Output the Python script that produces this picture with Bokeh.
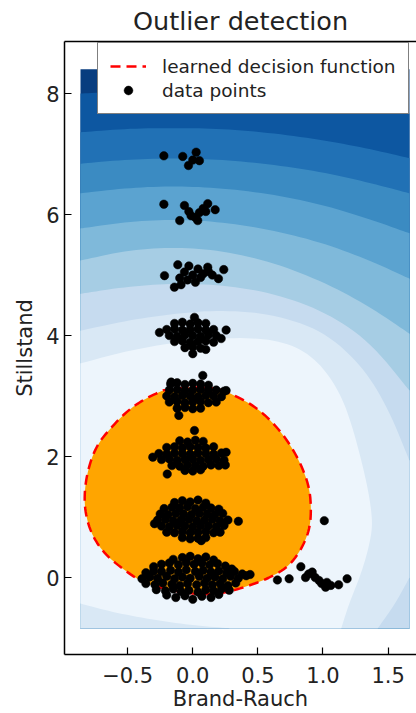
import numpy as np
from bokeh.plotting import figure
from bokeh.models import (Range1d, LinearAxis, FixedTicker, Legend, LegendItem,
                          ColumnDataSource, CustomLabelingPolicy)
from bokeh.embed import file_html
from bokeh.resources import INLINE

# ---------------- data ----------------
title_text = "Outlier detection"
x_label = "Brand-Rauch"
y_label = "Stillstand"
x_ticks = [-0.5, 0.0, 0.5, 1.0, 1.5]
x_tick_labels = ["\u22120.5", "0.0", "0.5", "1.0", "1.5"]
y_ticks = [0, 2, 4, 6, 8]
y_tick_labels = ["0", "2", "4", "6", "8"]

# extent of the evaluated decision-function grid
grid_x = [-0.862, 1.664]
grid_y = [-0.84, 8.40]

# contour lines of the decision function (outer -> inner)
arc_x = [-0.862, -0.5, -0.15, 0.2, 0.6, 1.0, 1.35, 1.664]
arc1_y = [8.00, 8.04, 8.06, 8.04, 7.99, 7.90, 7.79, 7.67]
arc2_y = [7.36, 7.42, 7.43, 7.42, 7.35, 7.23, 7.09, 6.93]
arc3_y = [6.84, 6.91, 6.93, 6.91, 6.83, 6.70, 6.53, 6.35]
arc4_y = [6.35, 6.44, 6.47, 6.44, 6.34, 6.16, 5.93, 5.69]
arc5_y = [5.77, 5.88, 5.92, 5.88, 5.75, 5.53, 5.25, 4.94]
arc6_y = [5.24, 5.41, 5.46, 5.41, 5.22, 4.89, 4.49, 4.03]
arc7_y = [4.69, 4.81, 4.86, 4.84, 4.71, 4.41, 3.92, 3.09]
arc8_x = [-0.862, -0.5, -0.15, 0.2, 0.6, 1.0, 1.3, 1.5, 1.664]
arc8_y = [4.08, 4.25, 4.36, 4.42, 4.36, 4.08, 3.5, 2.8, 1.93]
arc8b_x = [1.664, 1.55, 1.42]
arc8b_y = [0.0, -0.45, -0.84]
arc9_x = [-0.862, -0.5, -0.1, 0.3, 0.65, 0.9, 1.08, 1.2, 1.33, 1.38, 1.37, 1.3, 1.2, 1.14]
arc9_y = [3.54, 3.75, 3.90, 3.97, 3.93, 3.70, 3.25, 2.7, 1.65, 1.0, 0.66, 0.1, -0.43, -0.84]
arc9b_x = [-0.862, -0.6, -0.3, 0.0, 0.3]
arc9b_y = [-0.43, -0.58, -0.70, -0.79, -0.84]
band_colors = ["#083d7f", "#0d57a1", "#2171b5", "#3b8bc2", "#5ba3d0",
               "#7fb9da", "#a6cde4", "#c6dbef", "#d9e8f5", "#edf5fc"]

# learned decision boundary (closed)
boundary_x = [-0.01, 0.218, 0.27, 0.45, 0.60, 0.73, 0.83, 0.896, 0.91, 0.896, 0.83, 0.73,
              0.576, 0.397, 0.218, 0.038, -0.166, -0.371, -0.525, -0.678, -0.78, -0.83,
              -0.83, -0.793, -0.73, -0.627, -0.50, -0.371, -0.243, -0.217]
boundary_y = [3.15, 3.12, 3.06, 2.87, 2.60, 2.26, 1.88, 1.49, 1.11, 0.78, 0.45, 0.17,
              -0.02, -0.16, -0.27, -0.28, -0.21, -0.10, 0.12, 0.39, 0.72, 1.11,
              1.49, 1.88, 2.21, 2.48, 2.76, 2.95, 3.08, 3.10]

# data points, by Stillstand level
lvl0_x = [-0.15, -0.08, -0.02, 0.04, 0.10, 0.16,
          -0.30, -0.24, -0.18, -0.11, -0.05, 0.01, 0.07, 0.13, 0.19, 0.25, 0.30,
          -0.36, -0.30, -0.24, -0.17, -0.11, -0.05, 0.02, 0.08, 0.14, 0.20, 0.26, 0.32, 0.38,
          -0.39, -0.33, -0.27, -0.20, -0.14, -0.08, -0.02, 0.05, 0.11, 0.17, 0.23, 0.29, 0.35, 0.41, 0.44,
          -0.36, -0.29, -0.23, -0.16, -0.10, -0.04, 0.03, 0.09, 0.15, 0.21, 0.27, 0.33,
          -0.28, -0.21, -0.15, -0.09, -0.03, 0.04, 0.10, 0.16, 0.22, 0.28,
          -0.20, -0.13, -0.06, 0.00, 0.07, 0.14, 0.20]
lvl0_y = [0.30, 0.33, 0.35, 0.31, 0.34, 0.29,
          0.18, 0.22, 0.24, 0.21, 0.25, 0.22, 0.24, 0.21, 0.23, 0.19, 0.14,
          0.08, 0.11, 0.10, 0.12, 0.09, 0.13, 0.10, 0.12, 0.09, 0.11, 0.08, 0.10, 0.06,
          -0.02, 0.01, -0.01, 0.02, -0.02, 0.01, -0.01, 0.02, -0.01, 0.01, -0.02, 0.02, -0.01, 0.03, 0.05,
          -0.10, -0.12, -0.09, -0.11, -0.13, -0.10, -0.12, -0.09, -0.12, -0.10, -0.13, -0.09,
          -0.20, -0.22, -0.19, -0.23, -0.21, -0.24, -0.20, -0.22, -0.19, -0.21,
          -0.29, -0.33, -0.30, -0.36, -0.31, -0.33, -0.28]
lvl1_x = [-0.14, -0.08, -0.02, 0.04, 0.10,
          -0.22, -0.16, -0.10, -0.04, 0.02, 0.08, 0.14, 0.20,
          -0.25, -0.19, -0.13, -0.07, -0.01, 0.05, 0.11, 0.17, 0.23,
          -0.27, -0.21, -0.15, -0.09, -0.03, 0.03, 0.09, 0.15, 0.21, 0.27,
          -0.24, -0.18, -0.12, -0.06, 0.00, 0.06, 0.12, 0.18, 0.24,
          -0.20, -0.14, -0.08, -0.02, 0.04, 0.10, 0.16, 0.21,
          -0.08, -0.02, 0.04, 0.10,
          -0.294, 0.35, 0.065]
lvl1_y = [1.24, 1.27, 1.25, 1.28, 1.23,
          1.14, 1.16, 1.15, 1.17, 1.14, 1.16, 1.15, 1.13,
          1.05, 1.04, 1.06, 1.05, 1.04, 1.06, 1.05, 1.04, 1.06,
          0.95, 0.96, 0.94, 0.95, 0.96, 0.94, 0.95, 0.96, 0.94, 0.95,
          0.85, 0.84, 0.86, 0.85, 0.84, 0.86, 0.85, 0.84, 0.86,
          0.75, 0.74, 0.76, 0.74, 0.75, 0.76, 0.74, 0.75,
          0.66, 0.64, 0.65, 0.66,
          0.89, 0.93, 0.61]
lvl2_x = [-0.10, -0.04, 0.02, 0.08,
          -0.20, -0.14, -0.08, -0.02, 0.04, 0.10, 0.16,
          -0.26, -0.20, -0.14, -0.08, -0.02, 0.04, 0.10, 0.16, 0.22,
          -0.24, -0.18, -0.12, -0.06, 0.00, 0.06, 0.12, 0.18, 0.24,
          -0.16, -0.10, -0.04, 0.02, 0.08, 0.14, 0.20,
          -0.06, 0.00, 0.06,
          -0.307, -0.196, 0.013, 0.256, 0.25]
lvl2_y = [2.26, 2.24, 2.27, 2.25,
          2.15, 2.16, 2.14, 2.16, 2.15, 2.14, 2.16,
          2.05, 2.04, 2.06, 2.05, 2.04, 2.06, 2.05, 2.04, 2.06,
          1.95, 1.96, 1.94, 1.95, 1.96, 1.94, 1.95, 1.96, 1.94,
          1.85, 1.84, 1.86, 1.85, 1.84, 1.86, 1.85,
          1.77, 1.76, 1.78,
          1.99, 1.71, 2.43, 2.07, 1.86]
lvl3_x = [-0.17, -0.12, -0.06, 0.00, 0.06, 0.12,
          -0.18, -0.12, -0.06, 0.00, 0.06, 0.12, 0.18, 0.24,
          -0.20, -0.14, -0.08, -0.02, 0.04, 0.10, 0.16, 0.22,
          -0.18, -0.12, -0.06, 0.00, 0.06, 0.12, 0.18,
          -0.12, -0.06, 0.00, 0.06,
          -0.107, 0.077, 0.256, -0.166]
lvl3_y = [3.20, 3.22, 3.19, 3.21, 3.20, 3.18,
          3.10, 3.11, 3.09, 3.10, 3.11, 3.09, 3.10, 3.08,
          3.00, 2.99, 3.01, 3.00, 2.99, 3.01, 3.00, 2.99,
          2.90, 2.91, 2.89, 2.90, 2.91, 2.89, 2.90,
          2.80, 2.81, 2.79, 2.80,
          2.68, 3.34, 3.09, 3.23]
lvl4_x = [-0.14, -0.08, -0.02, 0.04, 0.10,
          -0.20, -0.14, -0.08, -0.02, 0.04, 0.10, 0.16,
          -0.18, -0.12, -0.06, 0.00, 0.06, 0.12, 0.18,
          -0.14, -0.08, -0.02, 0.04, 0.10, 0.16,
          -0.06, 0.00, 0.06,
          -0.256, 0.256, 0.218, 0.0, 0.013, 0.10]
lvl4_y = [4.20, 4.22, 4.19, 4.21, 4.20,
          4.10, 4.11, 4.09, 4.10, 4.11, 4.09, 4.10,
          4.00, 3.99, 4.01, 4.00, 3.99, 4.01, 4.00,
          3.90, 3.91, 3.89, 3.90, 3.91, 3.89,
          3.80, 3.81, 3.79,
          4.05, 4.09, 3.95, 3.70, 4.30, 3.77]
lvl5_x = [-0.217, -0.115, -0.141, -0.09, 0.238, 0.197, 0.115, 0.04, 0.0, 0.06,
          -0.064, 0.02, -0.03, 0.08, 0.12, -0.10, 0.15, -0.04]
lvl5_y = [4.99, 5.17, 4.80, 4.84, 5.09, 4.94, 5.13, 5.10, 5.00, 4.96,
          5.05, 4.88, 5.15, 5.02, 5.06, 4.95, 5.00, 4.92]
lvl6_x = [-0.222, -0.064, -0.10, 0.115, 0.172, 0.038, -0.013, 0.05, 0.08, 0.02, 0.10, -0.03]
lvl6_y = [6.17, 6.15, 5.90, 6.18, 6.08, 5.90, 5.98, 6.03, 6.10, 5.95, 6.05, 6.05]
lvl7_x = [-0.222, -0.077, -0.033, 0.026, 0.051, 0.0]
lvl7_y = [6.97, 6.96, 6.81, 7.03, 6.89, 6.90]
outlier_x = [0.65, 0.74, 0.83, 0.866, 0.917, 0.94, 0.97, 0.99, 1.03, 1.06, 1.02, 1.12,
             1.185, 0.89, 1.01]
outlier_y = [-0.04, -0.02, 0.18, 0.0, 0.09, 0.0, -0.05, -0.10, -0.08, -0.13, -0.16, -0.12,
             -0.02, 0.06, 0.94]

FONT = "DejaVu Sans"
TEXT = "#222222"


def smooth(xs, ys, n=3, closed=False):
    """Chaikin corner cutting: only rounds the drawn outline."""
    pts = np.column_stack([xs, ys]).astype(float)
    for _ in range(n):
        if closed:
            p, q = pts, np.roll(pts, -1, axis=0)
            new = np.empty((2 * len(p), 2))
            new[0::2] = 0.75 * p + 0.25 * q
            new[1::2] = 0.25 * p + 0.75 * q
            pts = new
        else:
            p, q = pts[:-1], pts[1:]
            new = np.empty((2 * len(p), 2))
            new[0::2] = 0.75 * p + 0.25 * q
            new[1::2] = 0.25 * p + 0.75 * q
            pts = np.vstack([pts[:1], new, pts[-1:]])
    return list(pts[:, 0]), list(pts[:, 1])


p = figure(width=416, height=713, output_backend="svg", toolbar_location=None,
           x_range=Range1d(-0.985, 1.718), y_range=Range1d(-1.272, 8.86),
           x_axis_type=None, y_axis_type=None,
           min_border_left=64, min_border_right=0, min_border_top=41, min_border_bottom=57)
p.outline_line_color = None
p.background_fill_color = "white"
p.border_fill_color = "white"

x0, x1 = grid_x
y0, y1 = grid_y

# filled contour bands, outermost first
p.patch([x0, x1, x1, x0], [y0, y0, y1, y1], fill_color=band_colors[0], line_color=None)
for ys, col in zip([arc1_y, arc2_y, arc3_y, arc4_y, arc5_y, arc6_y, arc7_y], band_colors[1:8]):
    sx, sy = smooth(arc_x, ys)
    p.patch(sx + [x1, x0], sy + [y0, y0], fill_color=col, line_color=None)

sx8, sy8 = smooth(arc8_x, arc8_y)
sx8b, sy8b = smooth(arc8b_x, arc8b_y)
p.patch(sx8 + sx8b + [x0], sy8 + sy8b + [y0], fill_color=band_colors[8], line_color=None)

sx9, sy9 = smooth(arc9_x, arc9_y)
sx9b, sy9b = smooth(arc9b_x, arc9b_y)
p.patch(sx9 + sx9b[::-1], sy9 + sy9b[::-1], fill_color=band_colors[9], line_color=None)

# inlier region and its frontier
bx, by = smooth(boundary_x, boundary_y, n=3, closed=True)
p.patch(bx, by, fill_color="#ffa500", line_color=None)
line_r = p.line(bx + bx[:1], by + by[:1], line_color="#ff0000", line_width=2.5,
                line_dash="10 6")

# data points
all_x = lvl0_x + lvl1_x + lvl2_x + lvl3_x + lvl4_x + lvl5_x + lvl6_x + lvl7_x + outlier_x
all_y = lvl0_y + lvl1_y + lvl2_y + lvl3_y + lvl4_y + lvl5_y + lvl6_y + lvl7_y + outlier_y
src = ColumnDataSource(dict(x=all_x, y=all_y))
pts_r = p.scatter("x", "y", source=src, size=8.5, fill_color="black", line_color="black",
                  line_width=0.5)


def style_axis(ax, label_size="21px"):
    ax.axis_line_color = "black"
    ax.axis_line_width = 1.5
    ax.major_tick_in = 7
    ax.major_tick_out = 0
    ax.minor_tick_in = 0
    ax.minor_tick_out = 0
    ax.major_tick_line_color = "black"
    ax.major_tick_line_width = 1.2
    ax.major_label_text_font = FONT
    ax.major_label_text_font_size = label_size
    ax.major_label_text_color = TEXT
    ax.axis_label_text_font = FONT
    ax.axis_label_text_font_size = "21px"
    ax.axis_label_text_font_style = "normal"
    ax.axis_label_text_color = TEXT


xaxis = LinearAxis(ticker=FixedTicker(ticks=x_ticks),
                   major_label_overrides={t: l for t, l in zip(x_ticks, x_tick_labels)},
                   axis_label=x_label)
style_axis(xaxis)
xaxis.major_label_standoff = 12
xaxis.axis_label_standoff = 1
p.add_layout(xaxis, "below")

yaxis = LinearAxis(ticker=FixedTicker(ticks=y_ticks),
                   major_label_overrides={t: l for t, l in zip(y_ticks, y_tick_labels)},
                   axis_label=y_label)
style_axis(yaxis)
yaxis.major_label_standoff = 5
yaxis.axis_label_standoff = 6
p.add_layout(yaxis, "left")

# top spine with inward ticks and no labels
topaxis = LinearAxis(ticker=FixedTicker(ticks=x_ticks),
                     major_label_policy=CustomLabelingPolicy(
                         code="for (const i of Array.from(indices)) { indices.unset(i) }"))
style_axis(topaxis, label_size="1px")
topaxis.major_label_standoff = 0
p.add_layout(topaxis, "above")

p.title.text = title_text
p.title.align = "center"
p.title.text_font = FONT
p.title.text_font_size = "25.5px"
p.title.text_font_style = "normal"
p.title.text_color = TEXT
p.title.standoff = 4

legend = Legend(items=[LegendItem(label="learned decision function", renderers=[line_r]),
                       LegendItem(label="data points", renderers=[pts_r])],
                location=(33, 540))
legend.label_text_font = FONT
legend.label_text_font_size = "18.5px"
legend.label_text_color = TEXT
legend.border_line_color = "black"
legend.border_line_width = 1.2
legend.background_fill_color = "white"
legend.background_fill_alpha = 1.0
legend.glyph_width = 36
legend.glyph_height = 22
legend.label_height = 22
legend.label_standoff = 16
legend.padding = 12
legend.spacing = 2
legend.margin = 0
p.add_layout(legend)

open("out.html", "w").write(file_html(p, INLINE))
